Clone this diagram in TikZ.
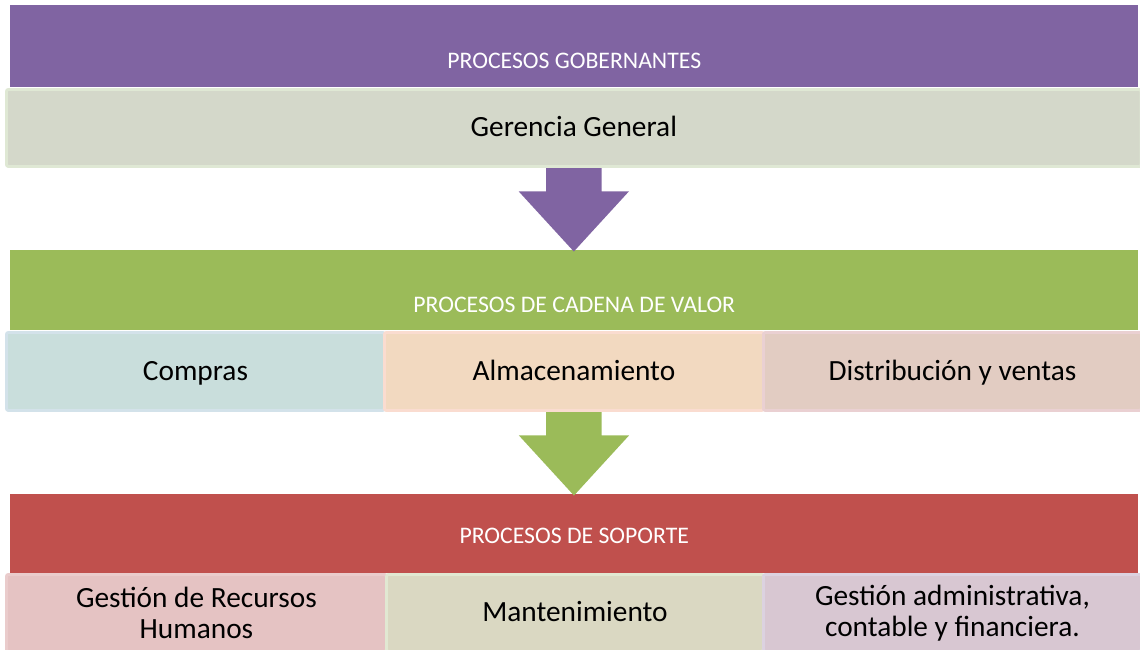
\documentclass[tikz,border=0pt]{standalone}
\usepackage{fontspec}
\setmainfont{Carlito}
\usepackage{tikz}
\usetikzlibrary{shapes,shapes.arrows,positioning,calc}

\definecolor{hdpurple}{HTML}{8064A2}
\definecolor{hdgreen}{HTML}{9BBB59}
\definecolor{hdred}{HTML}{C0504D}

\begin{document}
\begin{tikzpicture}[x=0.75pt, y=-0.75pt,
	  header/.style = {shape=rectangle, draw=none, inner sep=0pt,
	    anchor=north west},
	  hdtext/.style = {text=white, inner sep=0pt,
	    font=\fontsize{17.8}{21}\selectfont},
	  cell/.style = {shape=rectangle, rounded corners=1.5pt, line width=2.2pt,
	    anchor=north west, inner sep=0pt, align=center,
	    font=\fontsize{22}{23.5}\selectfont},
	  onecell/.style = {cell, text height=18pt, text depth=4.5pt},
	  downarrow/.style = {shape=single arrow, shape border rotate=270,
	    draw=none, fill=#1, inner xsep=20.6pt, inner ysep=0pt,
	    single arrow tip angle=85, single arrow head extend=20.6pt,
	    minimum height=62.5pt, anchor=tail}]
	  \useasboundingbox (0,0) rectangle (1140,650);
	  % governing processes
	  \node[header, fill=hdpurple, minimum width=846pt, minimum height=61.5pt]
	    (gob) at (10,5) {};
	  \node[hdtext] at ($(gob.south)+(0,-27)$) {PROCESOS GOBERNANTES};
	  \node[onecell, draw={rgb,255:red,223;green,232;blue,212},
	    fill={rgb,255:red,212;green,216;blue,202},
	    minimum width=851pt, minimum height=57.75pt]
	    (gerencia) at (5,88) {Gerencia General};
	  % value chain
	  \node[header, fill=hdgreen, minimum width=846pt, minimum height=60pt]
	    (cadena) at (10,250) {};
	  \node[hdtext] at ($(cadena.south)+(0,-26)$) {PROCESOS DE CADENA DE VALOR};
	  \node[onecell, draw={rgb,255:red,211;green,226;blue,234},
	    fill={rgb,255:red,201;green,222;blue,220},
	    minimum width=283.5pt, minimum height=58.5pt]
	    (compras) at (5,331) {Compras};
	  \node[onecell, draw={rgb,255:red,250;green,220;blue,208},
	    fill={rgb,255:red,242;green,217;blue,192},
	    minimum width=284.25pt, minimum height=58.5pt]
	    (almacen) at (383,331) {Almacenamiento};
	  \node[onecell, draw={rgb,255:red,234;green,208;blue,210},
	    fill={rgb,255:red,226;green,204;blue,194},
	    minimum width=283.5pt, minimum height=58.5pt]
	    (ventas) at (762,331) {Distribución y ventas};
	  % support
	  \node[header, fill=hdred, minimum width=846pt, minimum height=59.25pt]
	    (soporte) at (10,494) {};
	  \node[hdtext] at ($(soporte.south)+(0,-38)$) {PROCESOS DE SOPORTE};
	  \node[cell, draw={rgb,255:red,234;green,204;blue,204},
	    fill={rgb,255:red,229;green,195;blue,195},
	    minimum width=285pt, minimum height=57.75pt]
	    (rrhh) at (5,573) {Gestión de Recursos\\Humanos};
	  \node[onecell, draw={rgb,255:red,225;green,232;blue,210},
	    fill={rgb,255:red,218;green,216;blue,194},
	    minimum width=282.75pt, minimum height=57.75pt]
	    (manten) at (385,573) {Mantenimiento};
	  \node[cell, draw={rgb,255:red,220;green,210;blue,224},
	    fill={rgb,255:red,216;green,199;blue,210},
	    minimum width=283.5pt, minimum height=57.75pt]
	    (admin) at (762,573) {Gestión administrativa,\\contable y financiera.};
	  % arrows between levels
	  \node[downarrow=hdpurple] (flecha1) at (gerencia.south) {};
	  \node[downarrow=hdgreen] (flecha2) at (almacen.south) {};
	\end{tikzpicture}
\end{document}
